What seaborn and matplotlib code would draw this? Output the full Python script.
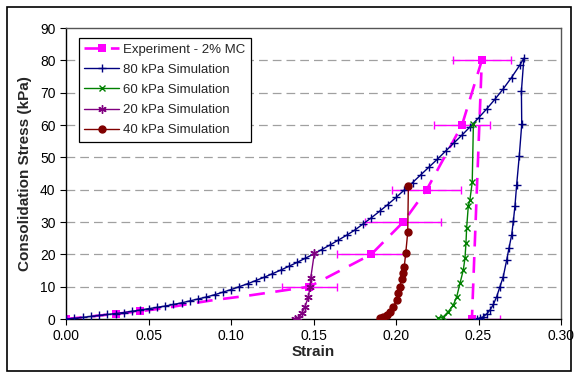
import matplotlib
matplotlib.use("Agg")
import matplotlib.pyplot as plt
import seaborn as sns
import pandas as pd
from matplotlib.patches import Rectangle

# Experiment - 2% MC (dashed path, square markers, horizontal error bars)
exp_strain = [0.000, 0.030, 0.045, 0.060, 0.075, 0.090, 0.110, 0.130, 0.1475,
              0.185, 0.2044, 0.2186, 0.240, 0.252, 0.246]
exp_stress = [0.0, 1.6, 2.4, 3.4, 4.7, 5.9, 7.2, 8.7, 10.0,
              20.0, 30.0, 40.0, 60.0, 80.0, 0.0]
exp_marks = [0, 1, 2, 8, 9, 10, 11, 12, 13, 14]
exp_err = [0.0, 0.0, 0.0, 0.0, 0.0, 0.0, 0.0, 0.0, 0.0167,
           0.0205, 0.023, 0.021, 0.017, 0.0175, 0.017]

# 80 kPa simulation: loading then unloading
sim80_strain = [0.000, 0.005, 0.010, 0.015, 0.020, 0.025, 0.030, 0.035, 0.040, 0.045,
                0.050, 0.055, 0.060, 0.065, 0.070, 0.075, 0.080, 0.085, 0.090, 0.095,
                0.100, 0.105, 0.110, 0.115, 0.120, 0.125, 0.130, 0.135, 0.140, 0.145,
                0.150, 0.155, 0.160, 0.165, 0.170, 0.175, 0.180, 0.185, 0.190, 0.195,
                0.200, 0.205, 0.210, 0.215, 0.220, 0.225, 0.230, 0.235, 0.240, 0.245,
                0.250, 0.255, 0.260, 0.265, 0.270, 0.275, 0.2775,
                0.2760, 0.2762, 0.2747, 0.2731, 0.2721, 0.2711, 0.2701, 0.2685, 0.2671,
                0.2650, 0.2630, 0.2610, 0.2590, 0.2570, 0.2550, 0.2529, 0.2510, 0.2489]
sim80_stress = [0.0, 0.2, 0.5, 0.8, 1.1, 1.4, 1.7, 2.0, 2.4, 2.8,
                3.2, 3.6, 4.0, 4.5, 5.0, 5.6, 6.2, 6.8, 7.5, 8.3,
                9.1, 10.0, 10.9, 11.9, 12.9, 14.0, 15.1, 16.3, 17.5, 18.8,
                20.1, 21.5, 22.9, 24.4, 25.9, 27.5, 29.4, 31.3, 33.3, 35.4,
                37.6, 39.9, 42.2, 44.6, 47.0, 49.4, 51.9, 54.4, 56.9, 59.5,
                62.2, 65.0, 68.0, 71.2, 74.7, 78.5, 80.7,
                70.5, 60.2, 50.4, 41.4, 35.0, 30.2, 26.0, 22.0, 18.3,
                13.1, 10.0, 6.9, 4.5, 2.8, 1.6, 0.7, 0.3, 0.1]

# 60 kPa simulation: unloading
sim60_strain = [0.2469, 0.2462, 0.2448, 0.2438, 0.2428, 0.2424, 0.2418, 0.2408, 0.2388,
                0.2368, 0.2347, 0.2317, 0.2287, 0.2256]
sim60_stress = [60.4, 42.3, 36.9, 34.9, 28.1, 23.5, 18.8, 15.2, 11.1,
                6.9, 4.3, 2.3, 0.7, 0.2]

# 20 kPa simulation: unloading
sim20_strain = [0.1505, 0.1483, 0.1479, 0.1469, 0.1448, 0.1428, 0.1408, 0.1388]
sim20_stress = [20.4, 12.6, 10.0, 6.9, 3.8, 1.8, 0.4, 0.0]

# 40 kPa simulation: unloading
sim40_strain = [0.2075, 0.2071, 0.2059, 0.2050, 0.2040, 0.2034, 0.2024, 0.2014, 0.2004,
                0.1984, 0.1964, 0.1943, 0.1923, 0.1903]
sim40_stress = [41.1, 26.8, 20.4, 16.2, 14.2, 12.4, 10.0, 8.0, 5.9,
                3.8, 2.3, 1.2, 0.5, 0.2]

sns.set_style("ticks")
plt.rcParams['font.family'] = ['Liberation Sans', 'DejaVu Sans']

fig = plt.figure(figsize=(5.78, 3.74), dpi=100)
ax = fig.add_axes([0.1142, 0.147, 0.8564, 0.778])

for y in range(10, 90, 10):
    ax.axhline(y, color="#a0a0a0", lw=0.9, ls=(0, (7, 4)), zorder=0)

df_exp = pd.DataFrame({"strain": exp_strain, "stress": exp_stress})
ax.errorbar([exp_strain[i] for i in range(len(exp_strain)) if exp_err[i] > 0],
            [exp_stress[i] for i in range(len(exp_strain)) if exp_err[i] > 0],
            xerr=[e for e in exp_err if e > 0], fmt="none", ecolor="#FF00FF",
            elinewidth=1.0, capsize=3, capthick=1.0, zorder=2)
sns.lineplot(data=df_exp, x="strain", y="stress", sort=False, estimator=None, ax=ax,
             color="#FF00FF", lw=1.9, dashes=False, linestyle=(0, (6, 4)),
             marker="s", markersize=6, markeredgewidth=0, markevery=exp_marks,
             label="Experiment - 2% MC", zorder=2)

series = [
    (sim80_strain, sim80_stress, "#000080", "+", 6, "80 kPa Simulation"),
    (sim60_strain, sim60_stress, "#008000", "x", 5, "60 kPa Simulation"),
    (sim20_strain, sim20_stress, "#800080", (6, 2, 0), 6, "20 kPa Simulation"),
    (sim40_strain, sim40_stress, "#800000", "o", 5, "40 kPa Simulation"),
]
for xs, ys, col, mk, ms, lab in series:
    sns.lineplot(x=xs, y=ys, sort=False, estimator=None, ax=ax, color=col, lw=1.0,
                 marker=mk, markersize=ms, markeredgewidth=1.0, markeredgecolor=col,
                 label=lab, zorder=3)

ax.set_xlim(0, 0.30)
ax.set_ylim(0, 90)
ax.set_xticks([0.0, 0.05, 0.10, 0.15, 0.20, 0.25, 0.30])
ax.set_xticklabels(["0.00", "0.05", "0.10", "0.15", "0.20", "0.25", "0.30"])
ax.set_yticks(range(0, 100, 10))
ax.tick_params(axis="both", labelsize=10, length=4, width=0.8, colors="black", direction="out")
for s in ax.spines.values():
    s.set_visible(True)
    s.set_color("black")
    s.set_linewidth(1.0)
ax.spines["top"].set_color("#555555")
ax.spines["right"].set_color("#555555")

ax.set_xlabel("Strain", fontsize=11, fontweight="bold", labelpad=1)
ax.set_ylabel("Consolidation Stress (kPa)", fontsize=11, fontweight="bold", labelpad=6)

leg = ax.legend(loc="upper left", bbox_to_anchor=(0.012, 0.99), fontsize=9.5,
                frameon=True, fancybox=False, edgecolor="black", framealpha=1,
                handlelength=2.6, labelspacing=0.6, borderpad=0.45, handletextpad=0.3)
leg.get_frame().set_linewidth(0.9)

fig.patches.append(Rectangle((7 / 578, 3 / 374), 564 / 578, 364 / 374, transform=fig.transFigure,
                             fill=False, edgecolor="black", lw=1.2))

fig.savefig("out.png", dpi=100)
